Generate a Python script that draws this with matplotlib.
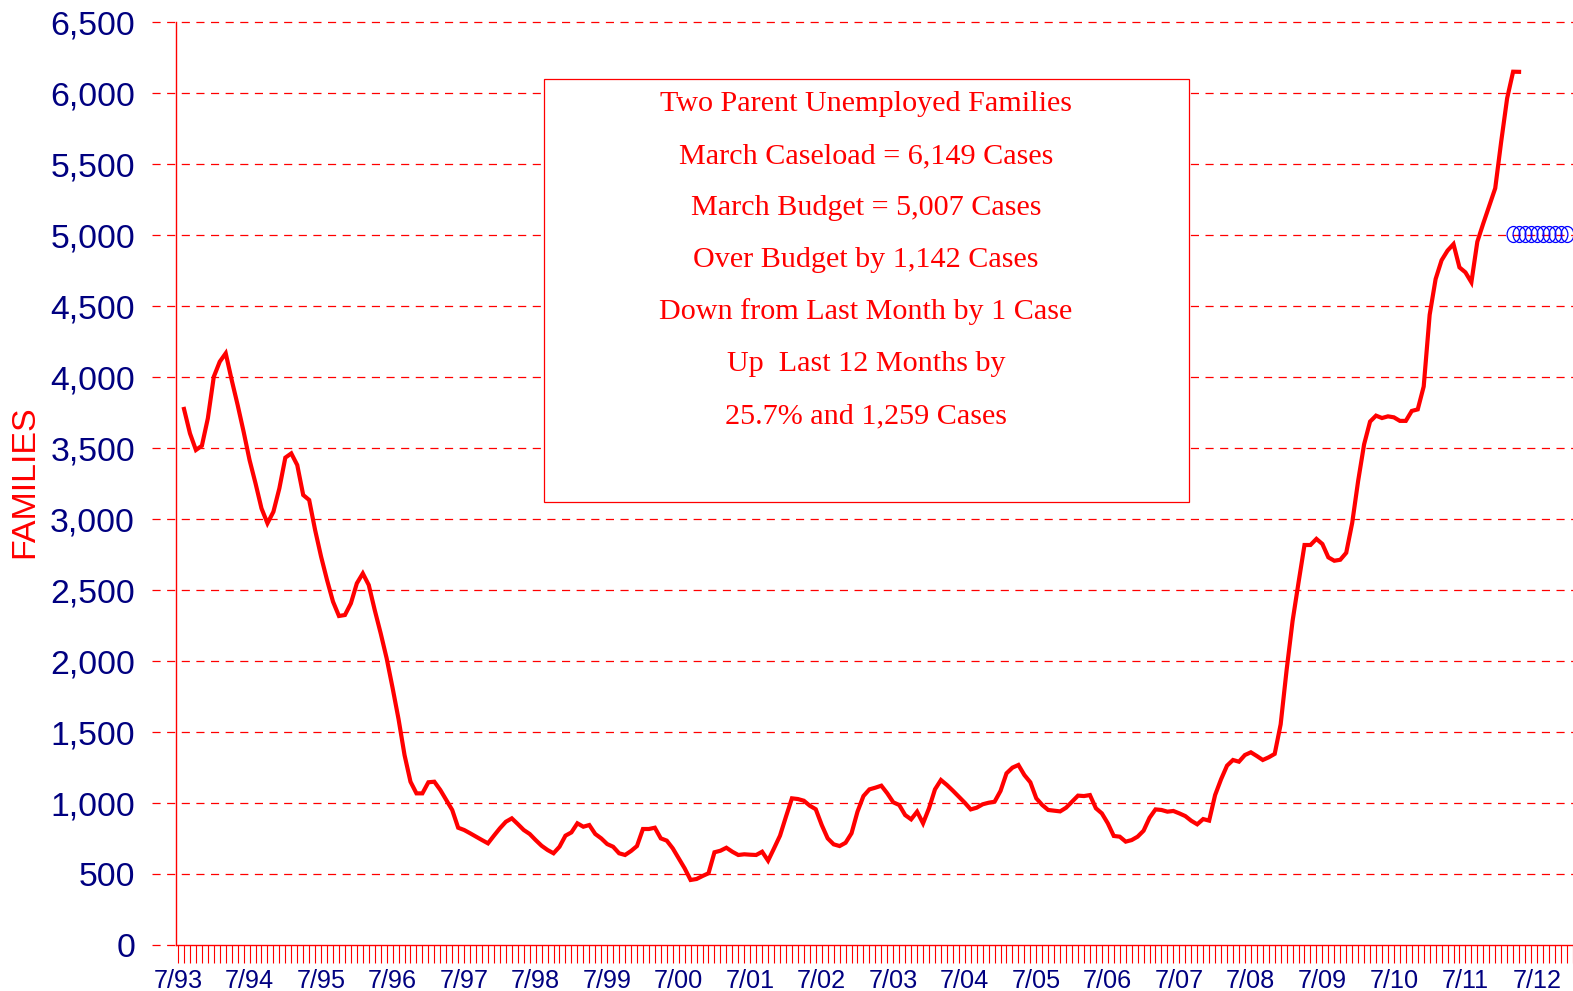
import numpy as np
import matplotlib
matplotlib.use("Agg")
import matplotlib.pyplot as plt
from matplotlib.patches import Rectangle
from matplotlib.path import Path
from matplotlib.transforms import Affine2D
from matplotlib.ticker import FixedLocator, MultipleLocator

# monthly caseload, 7/93 .. 3/12
caseload = [
    3775, 3603, 3486, 3516, 3709, 4002, 4108, 4167, 3979, 3803, 3615, 3415,
    3251, 3075, 2970, 3051, 3216, 3432, 3462, 3380, 3169, 3134, 2922, 2735,
    2570, 2418, 2317, 2324, 2406, 2547, 2617, 2535, 2359, 2195, 2019, 1810,
    1590, 1338, 1150, 1068, 1068, 1146, 1150, 1092, 1021, 951, 826, 810,
    787, 763, 739, 716, 770, 822, 868, 892, 852, 810, 782, 739,
    699, 669, 646, 692, 770, 793, 857, 833, 845, 782, 751, 711,
    692, 646, 634, 662, 697, 817, 817, 826, 751, 735, 681, 610,
    540, 458, 465, 486, 505, 653, 664, 685, 657, 634, 639, 636,
    634, 657, 594, 681, 770, 904, 1033, 1028, 1016, 981, 956, 845,
    751, 709, 697, 720, 787, 939, 1049, 1096, 1108, 1122, 1068, 1005,
    986, 915, 885, 939, 857, 963, 1096, 1162, 1127, 1087, 1045, 1002,
    955, 967, 991, 1002, 1009, 1085, 1209, 1249, 1268, 1197, 1146, 1033,
    986, 951, 946, 941, 967, 1009, 1052, 1049, 1056, 963, 927, 857,
    768, 763, 728, 739, 763, 805, 896, 955, 951, 939, 944, 927,
    908, 875, 850, 887, 876, 1056, 1167, 1263, 1303, 1291, 1338, 1357,
    1331, 1303, 1322, 1346, 1554, 1937, 2282, 2553, 2817, 2817, 2860, 2824,
    2730, 2706, 2713, 2762, 2972, 3268, 3526, 3686, 3728, 3711, 3723, 3716,
    3691, 3691, 3761, 3772, 3933, 4438, 4690, 4822, 4890, 4936, 4772, 4737,
    4667, 4953, 5082, 5206, 5329, 5657, 5963, 6150, 6149,
]

budget_start = 223
budget = [5007] * 10

year_labels = ["7/93", "7/94", "7/95", "7/96", "7/97", "7/98", "7/99", "7/00",
               "7/01", "7/02", "7/03", "7/04", "7/05", "7/06", "7/07", "7/08",
               "7/09", "7/10", "7/11", "7/12"]

box_lines = [
    "Two Parent Unemployed Families",
    "March Caseload = 6,149 Cases",
    "March Budget = 5,007 Cases",
    "Over Budget by 1,142 Cases",
    "Down from Last Month by 1 Case",
    "Up  Last 12 Months by",
    "25.7% and 1,259 Cases",
]

RED = "#ff0000"
NAVY = "#000080"
plt.rcParams["font.family"] = ["Liberation Sans", "DejaVu Sans"]

fig = plt.figure(figsize=(15.73, 9.91), dpi=100)
ax = fig.add_axes([0.1119, 0.0464, 0.8881, 0.9314])

x = np.arange(len(caseload))
ax.plot(x, caseload, color=RED, lw=3, zorder=4, solid_joinstyle="miter")

# slightly tall oval markers for the budget
oval = Path.unit_circle().transformed(Affine2D().scale(0.8, 1.0))
bx = np.arange(budget_start, budget_start + len(budget))
ax.plot(bx, budget, ls="none", marker=oval, ms=11.5, mfc="none", mec="#0000ff",
        mew=0.9, zorder=5)

ax.set_xlim(-1.34, 233.05)
ax.set_ylim(0, 6500)

# dashed gridlines, running a bit left of the axis like the tick marks
ytrans = ax.get_yaxis_transform()
for v in range(0, 6501, 500):
    x0 = -0.0172
    x1 = 0.0 if v == 0 else 1.0
    ax.plot([x0, x1], [v, v], transform=ytrans, color=RED, lw=0.9,
            ls=(0, (6.5, 5.2)), clip_on=False, zorder=1)

for s in ["top", "right"]:
    ax.spines[s].set_visible(False)
for s in ["left", "bottom"]:
    ax.spines[s].set_color(RED)
    ax.spines[s].set_linewidth(1.0)

ax.yaxis.set_major_locator(MultipleLocator(500))
ax.set_yticklabels([f"{int(v):,}" for v in ax.get_yticks()])
ax.tick_params(axis="y", length=0, pad=29.5, labelsize=24.3, labelcolor=NAVY)

major = [12 * k - 1 for k in range(len(year_labels))]
ax.xaxis.set_major_locator(FixedLocator(major))
ax.xaxis.set_minor_locator(FixedLocator(np.arange(-1, 234)))
ax.set_xticklabels(year_labels)
ax.tick_params(axis="x", which="both", direction="out", length=13, width=0.8,
               color=RED, pad=4, labelsize=18.2, labelcolor=NAVY)

fig.text(25 / 1573, 1 - 482 / 991, "FAMILIES", rotation=90, color=RED,
         fontsize=24.5, ha="center", va="center")

# text box
x0, x1 = 544 / 1573, 1189 / 1573
y0, y1 = 1 - 502 / 991, 1 - 79 / 991
ax.add_patch(Rectangle((x0, y0), x1 - x0, y1 - y0, transform=fig.transFigure,
                       facecolor="white", edgecolor=RED, lw=0.9, zorder=6,
                       clip_on=False))
line_y = [104, 156, 208, 260, 312, 364, 416]
for txt, yy in zip(box_lines, line_y):
    fig.text(866 / 1573, 1 - yy / 991, txt, color=RED, fontsize=21.7,
             family="Liberation Serif", ha="center", va="center", zorder=7)

fig.savefig("out.png", dpi=100)
